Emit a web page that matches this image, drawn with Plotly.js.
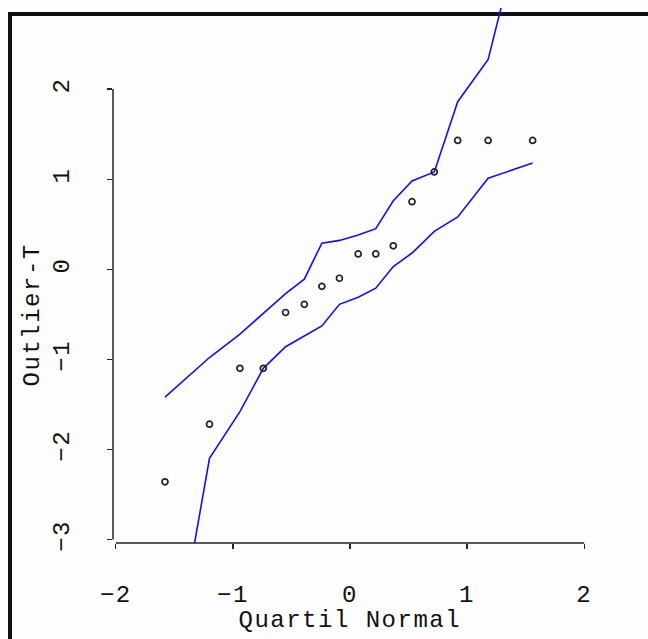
<!DOCTYPE html>
<html><head><meta charset="utf-8">
<script src="https://cdn.plot.ly/plotly-3.0.1.min.js"></script>
<style>
html,body{margin:0;padding:0;background:#fdfdfd;width:648px;height:639px;overflow:hidden;}
#frame{position:absolute;left:8px;top:12px;width:720px;height:720px;border-left:4px solid #111;border-top:4px solid #111;box-sizing:border-box;}
#chart{position:absolute;left:0;top:0;width:648px;height:639px;}
#chart text{letter-spacing:1.5px;}
</style></head><body>
<div id="frame"></div><div id="chart"></div>
<script>
// Normal quantiles (x) and observed outlier-T values (y)
const quantiles = [-1.58, -1.20, -0.94, -0.74, -0.55, -0.39, -0.24, -0.09, 0.07, 0.22, 0.37, 0.53, 0.72, 0.92, 1.18, 1.56];
const outlierT  = [-2.36, -1.72, -1.10, -1.10, -0.48, -0.39, -0.19, -0.10, 0.17, 0.17, 0.26, 0.75, 1.08, 1.43, 1.43, 1.43];
// Envelope bands
const upperBand = [-1.42, -0.98, -0.72, -0.49, -0.27, -0.11, 0.29, 0.32, 0.38, 0.45, 0.76, 0.98, 1.08, 1.86, 2.33, 4.30];
const lowerBand = [-4.90, -2.10, -1.58, -1.10, -0.86, -0.74, -0.63, -0.39, -0.31, -0.21, 0.03, 0.18, 0.42, 0.58, 1.01, 1.18];
const xTickVals = [-2, -1, 0, 1, 2];
const yTickVals = [-3, -2, -1, 0, 1, 2];
const xTitle = 'Quartil Normal';
const yTitle = 'Outlier-T';

const fnt = {family: '"Liberation Mono", "DejaVu Sans Mono", monospace', size: 24, color: '#111'};
const blue = '#1010f0';

const traces = [
  {x: quantiles, y: upperBand, mode: 'lines', line: {color: blue, width: 1.6}, hoverinfo: 'skip'},
  {x: quantiles, y: lowerBand, mode: 'lines', line: {color: blue, width: 1.6}, hoverinfo: 'skip'},
  {x: quantiles, y: outlierT, mode: 'markers',
   marker: {symbol: 'circle-open', size: 6, color: '#222', line: {width: 1.7, color: '#222'}}}
];

const layout = {
  width: 648, height: 639,
  margin: {l: 113, r: 58, t: 8, b: 96, pad: 0},
  paper_bgcolor: 'rgba(0,0,0,0)', plot_bgcolor: 'rgba(0,0,0,0)',
  showlegend: false,
  font: fnt,
  xaxis: {range: [-2.024, 2.05], tickvals: xTickVals, ticks: 'outside', ticklen: 5, tickwidth: 1.3,
          tickcolor: '#222', showgrid: false, zeroline: false, showline: false,
          ticklabelstandoff: 24, tickfont: fnt},
  yaxis: {range: [-3.039, 2.90], tickvals: yTickVals, ticks: 'outside', ticklen: 5, tickwidth: 1.3,
          tickcolor: '#222', showgrid: false, zeroline: false, showline: false,
          tickangle: -90, ticklabelstandoff: 28, tickfont: fnt},
  shapes: [
    {type: 'line', xref: 'x', yref: 'paper', x0: -2, x1: 2, y0: 0, y1: 0, line: {color: '#222', width: 1.5}},
    {type: 'line', xref: 'paper', yref: 'y', x0: 0, x1: 0, y0: -3, y1: 2, line: {color: '#222', width: 1.5}}
  ],
  annotations: [
    {text: xTitle, xref: 'x', yref: 'paper', x: 0, y: -0.144, xanchor: 'center', yanchor: 'middle',
     showarrow: false, font: fnt},
    {text: yTitle, xref: 'paper', yref: 'y', x: -0.169, y: -0.5, xanchor: 'center', yanchor: 'middle',
     textangle: -90, showarrow: false, font: fnt}
  ]
};

Plotly.newPlot('chart', traces, layout, {staticPlot: true, displayModeBar: false});
</script>
</body></html>
